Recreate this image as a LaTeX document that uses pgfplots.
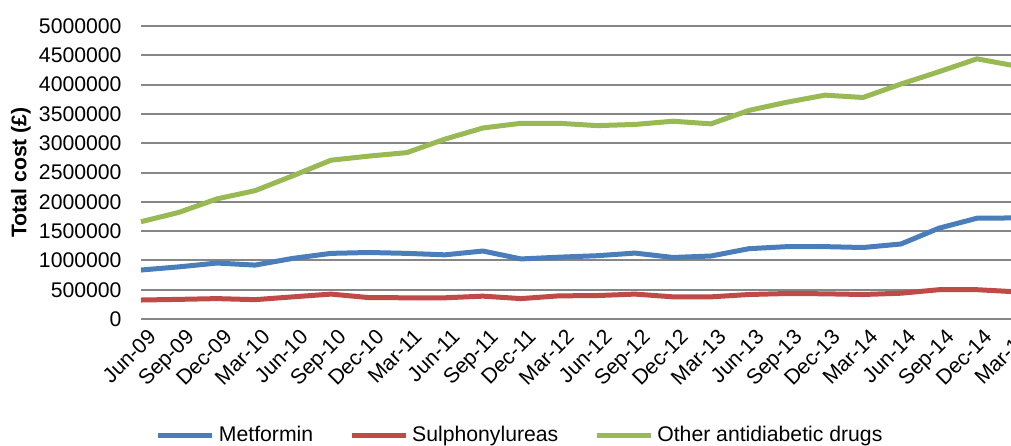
\documentclass[border=0pt]{standalone}
\usepackage{pgfplots}
\pgfplotsset{compat=1.18}
\usepackage{fontspec}
\setmainfont{Liberation Sans}
\definecolor{cblue}{HTML}{4A7EBB}
\definecolor{cred}{HTML}{BE4B48}
\definecolor{cgreen}{HTML}{98B954}
\definecolor{cgrid}{HTML}{868686}
\begin{document}
\fontsize{10.6}{12.7}\selectfont
\begin{tikzpicture}
\begin{axis}[
  scale only axis,
  width=437pt, height=146.5pt,
  xmin=0, xmax=23, ymin=0, ymax=5000000,
  axis line style={draw=none},
  major tick length=0pt,
  ymajorgrids,
  grid style={cgrid, line width=1pt},
  scaled y ticks=false,
  ytick={0,500000,...,5000000},
  yticklabels={0,500000,1000000,1500000,2000000,2500000,3000000,3500000,4000000,4500000,5000000},
  yticklabel style={xshift=-6pt},
  /pgf/number format/assume math mode=true,
  xtick={0,...,23},
  xticklabels={Jun-09,Sep-09,Dec-09,Mar-10,Jun-10,Sep-10,Dec-10,Mar-11,Jun-11,Sep-11,Dec-11,Mar-12,Jun-12,Sep-12,Dec-12,Mar-13,Jun-13,Sep-13,Dec-13,Mar-14,Jun-14,Sep-14,Dec-14,Mar-15},
  xticklabel style={rotate=45, anchor=north east, inner sep=1pt, yshift=-4pt},
  ylabel={\bfseries Total cost (£)},
  ylabel style={at={(axis description cs:-0.1373,0.5)}, anchor=center},
  legend columns=3,
  legend style={draw=none, at={(axis description cs:0.435,-0.396)}, anchor=center,
    /tikz/every even column/.append style={column sep=16pt},
    /tikz/every odd column/.append style={column sep=0pt}},
  legend image code/.code={\draw[#1, line width=2.5pt] (0pt,0pt) -- (27pt,0pt);},
  every axis plot/.append style={line width=2.5pt, line join=round, mark=none},
  clip=false,
]
\addplot[cblue] coordinates {
(0,836000) (1,890000) (2,955000) (3,920000) (4,1035000) (5,1120000) (6,1135000) (7,1120000)
(8,1095000) (9,1160000) (10,1025000) (11,1055000) (12,1080000) (13,1125000) (14,1050000) (15,1075000)
(16,1200000) (17,1235000) (18,1235000) (19,1220000) (20,1280000) (21,1550000) (22,1720000) (23,1725000)};
\addlegendentry{Metformin}
\addplot[cred] coordinates {
(0,324000) (1,335000) (2,348000) (3,330000) (4,378000) (5,425000) (6,365000) (7,362000)
(8,362000) (9,390000) (10,348000) (11,395000) (12,400000) (13,425000) (14,378000) (15,378000)
(16,418000) (17,435000) (18,430000) (19,418000) (20,440000) (21,500000) (22,500000) (23,465000)};
\addlegendentry{Sulphonylureas}
\addplot[cgreen] coordinates {
(0,1660000) (1,1820000) (2,2050000) (3,2190000) (4,2445000) (5,2710000) (6,2780000) (7,2840000)
(8,3070000) (9,3260000) (10,3340000) (11,3340000) (12,3300000) (13,3320000) (14,3375000) (15,3330000)
(16,3560000) (17,3700000) (18,3820000) (19,3780000) (20,4010000) (21,4220000) (22,4440000) (23,4320000)};
\addlegendentry{Other antidiabetic drugs}
\end{axis}
\pgfresetboundingbox
\useasboundingbox (-70.5pt,-63pt) rectangle (435pt,159.5pt);
\end{tikzpicture}
\end{document}
